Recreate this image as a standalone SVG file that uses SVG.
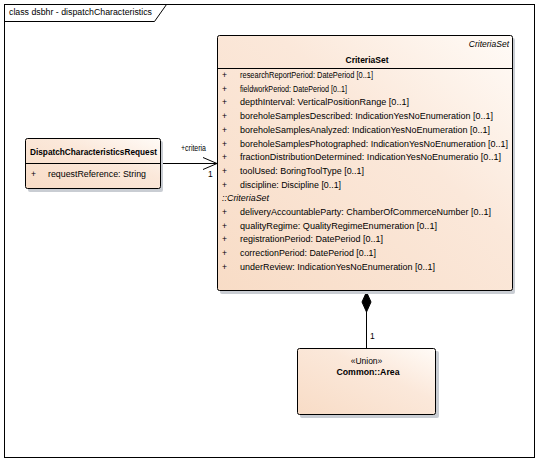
<svg xmlns="http://www.w3.org/2000/svg" width="539" height="462" viewBox="0 0 539 462">
<defs>
<linearGradient id="g" x1="0" y1="1" x2="1" y2="0">
<stop offset="0" stop-color="#F8DCC6"/>
<stop offset="0.6" stop-color="#FBE8DA"/>
<stop offset="1" stop-color="#FFFBF7"/>
</linearGradient>
<marker id="open" markerWidth="16" markerHeight="14" refX="15" refY="7" orient="auto" markerUnits="userSpaceOnUse">
<path d="M1,1 L15,7 L1,13" fill="none" stroke="#000" stroke-width="1"/>
</marker>
</defs>
<style>
text{font-family:"Liberation Sans",Arial,sans-serif;font-size:8.5px;fill:#000}
.b{font-weight:bold}
.i{font-style:italic}
.box{fill:url(#g);stroke:#000;stroke-width:1}
.sh{fill:#C9CDD3}
.ln{stroke:#000;stroke-width:1;fill:none}
</style>
<rect x="0" y="0" width="539" height="462" fill="#fff"/>
<g id="frame">
<rect x="4.5" y="4.5" width="530" height="453" class="ln"/>
<path d="M4.5,21.5 H154.5 L166.5,4.5" class="ln"/>
<text x="9" y="15" textLength="143" lengthAdjust="spacingAndGlyphs">class dsbhr - dispatchCharacteristics</text>
</g>
<g id="connectors">
<line x1="160" y1="163.5" x2="217" y2="163.5" class="ln" marker-end="url(#open)"/>
<text x="181" y="151" textLength="25" lengthAdjust="spacingAndGlyphs">+criteria</text>
<text x="208" y="177">1</text>
<line x1="366.5" y1="312" x2="366.5" y2="348" class="ln"/>
<path d="M366.5,292 L371,302 L366.5,312 L362,302 Z" fill="#000" stroke="#000" stroke-width="1"/>
<text x="370" y="339">1</text>
</g>
<g id="CriteriaSet">
<rect x="220" y="38" width="295" height="256" rx="2" class="sh"/>
<rect x="217.5" y="35.5" width="295" height="255" rx="2" class="box"/>
<line x1="217.5" y1="68.5" x2="512.5" y2="68.5" class="ln"/>
<text x="509" y="47" class="i" text-anchor="end">CriteriaSet</text>
<text x="367" y="63" class="b" text-anchor="middle">CriteriaSet</text>
<g>
<text x="222" y="78">+</text><text x="240" y="78" textLength="133" lengthAdjust="spacingAndGlyphs">researchReportPeriod: DatePeriod [0..1]</text>
<text x="222" y="91.7">+</text><text x="240" y="91.7" textLength="107" lengthAdjust="spacingAndGlyphs">fieldworkPeriod: DatePeriod [0..1]</text>
<text x="222" y="105.4">+</text><text x="240" y="105.4" textLength="169" lengthAdjust="spacingAndGlyphs">depthInterval: VerticalPositionRange [0..1]</text>
<text x="222" y="119.1">+</text><text x="240" y="119.1" textLength="253" lengthAdjust="spacingAndGlyphs">boreholeSamplesDescribed: IndicationYesNoEnumeration [0..1]</text>
<text x="222" y="132.8">+</text><text x="240" y="132.8" textLength="250" lengthAdjust="spacingAndGlyphs">boreholeSamplesAnalyzed: IndicationYesNoEnumeration [0..1]</text>
<text x="222" y="146.5">+</text><text x="240" y="146.5" textLength="268" lengthAdjust="spacingAndGlyphs">boreholeSamplesPhotographed: IndicationYesNoEnumeration [0..1]</text>
<text x="222" y="160.2">+</text><text x="240" y="160.2" textLength="261" lengthAdjust="spacingAndGlyphs">fractionDistributionDetermined: IndicationYesNoEnumeratio [0..1]</text>
<text x="222" y="173.9">+</text><text x="240" y="173.9" textLength="124" lengthAdjust="spacingAndGlyphs">toolUsed: BoringToolType [0..1]</text>
<text x="222" y="187.6">+</text><text x="240" y="187.6" textLength="101" lengthAdjust="spacingAndGlyphs">discipline: Discipline [0..1]</text>
<text x="222" y="201.3" class="i" textLength="47" lengthAdjust="spacingAndGlyphs">::CriteriaSet</text>
<text x="222" y="215">+</text><text x="240" y="215" textLength="251" lengthAdjust="spacingAndGlyphs">deliveryAccountableParty: ChamberOfCommerceNumber [0..1]</text>
<text x="222" y="228.7">+</text><text x="240" y="228.7" textLength="197" lengthAdjust="spacingAndGlyphs">qualityRegime: QualityRegimeEnumeration [0..1]</text>
<text x="222" y="242.4">+</text><text x="240" y="242.4" textLength="143" lengthAdjust="spacingAndGlyphs">registrationPeriod: DatePeriod [0..1]</text>
<text x="222" y="256.1">+</text><text x="240" y="256.1" textLength="136" lengthAdjust="spacingAndGlyphs">correctionPeriod: DatePeriod [0..1]</text>
<text x="222" y="269.8">+</text><text x="240" y="269.8" textLength="195" lengthAdjust="spacingAndGlyphs">underReview: IndicationYesNoEnumeration [0..1]</text>
</g>
</g>
<g id="DispatchCharacteristicsRequest">
<rect x="28" y="141" width="135" height="51" rx="2" class="sh"/>
<rect x="25.5" y="138.5" width="135" height="50" rx="2" class="box"/>
<line x1="25.5" y1="163.5" x2="160.5" y2="163.5" class="ln"/>
<text x="30" y="155" class="b" textLength="127" lengthAdjust="spacingAndGlyphs">DispatchCharacteristicsRequest</text>
<text x="31" y="177">+</text><text x="48" y="177" textLength="98" lengthAdjust="spacingAndGlyphs">requestReference: String</text>
</g>
<g id="CommonArea">
<rect x="300" y="351" width="139" height="67" rx="2" class="sh"/>
<rect x="297.5" y="348.5" width="138" height="66" rx="2" class="box"/>
<text x="366.5" y="364" text-anchor="middle">«Union»</text>
<text x="368" y="375" class="b" text-anchor="middle" textLength="63" lengthAdjust="spacingAndGlyphs">Common::Area</text>
</g>
</svg>
